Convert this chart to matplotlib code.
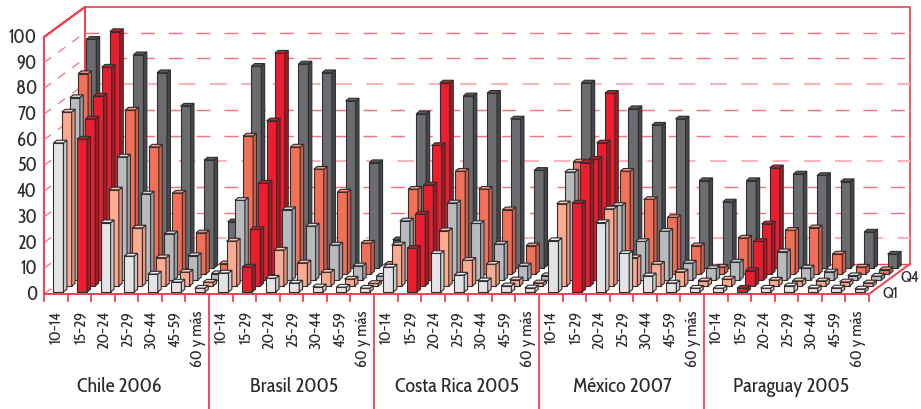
import matplotlib
matplotlib.use('Agg')
import matplotlib.pyplot as plt

plt.rcParams['font.family'] = ['Cabin Condensed', 'Lato', 'DejaVu Sans']

ages = ['10-14', '15-29', '20-24', '25-29', '30-44', '45-59', '60 y más']
countries = ['Chile 2006', 'Brasil 2005', 'Costa Rica 2005', 'México 2007', 'Paraguay 2005']
yticks = [0, 10, 20, 30, 40, 50, 60, 70, 80, 90, 100]

# each row = one age group, Q1 (front) .. Q5 (back)
chile = [[58, 67.7, 71, 78, 89],
         [59.5, 65, 71.6, 80.5, 92],
         [27, 37.4, 47.9, 63.8, 83],
         [14, 22.6, 33.5, 49.4, 76],
         [7, 11, 18, 31.5, 63],
         [3.9, 5.4, 9.5, 16, 42],
         [1.5, 1.5, 2.5, 4, 18]]
brasil = [[7.4, 17.5, 31, 53.7, 78.5],
          [9.7, 22, 37.7, 59.6, 83.6],
          [5.4, 14, 27.4, 49.4, 79.4],
          [3.5, 9, 21, 40.8, 76],
          [2, 5.4, 13.6, 31.9, 65],
          [1.9, 2.7, 5.5, 12, 41],
          [1.5, 1, 1.5, 3.8, 11]]
costa_rica = [[9.7, 16, 23, 33, 60],
              [17, 28, 37, 50, 72],
              [15, 21.5, 30, 40, 67],
              [6.6, 10, 22, 33, 68],
              [4.4, 8.5, 14, 25, 58],
              [2.4, 2.4, 5.5, 11, 38],
              [1.6, 1.2, 1.7, 2.5, 8]]
mexico = [[20, 32, 42, 43.6, 72],
          [34.6, 48, 47, 51, 68],
          [27, 30, 29, 40, 62],
          [15, 11, 15, 29, 55.6],
          [6.3, 8.5, 19, 22, 58],
          [3.5, 5.5, 6.6, 11, 34],
          [1.5, 2, 4.5, 2.7, 25.7]]
paraguay = [[1.5, 2.7, 7, 14, 34],
            [1.5, 6, 15, 19.5, 39],
            [1.5, 2.3, 11, 17, 36.6],
            [2.4, 2, 4.7, 18, 36],
            [1.6, 2, 3.2, 7.8, 33.6],
            [1.6, 1.6, 1.7, 2.7, 14],
            [1.2, 1.2, 1.5, 1.7, 5.4]]
all_data = [chile, brasil, costa_rica, mexico, paraguay]

# face, side, top for each depth row
row_colors = [('#e3e4e6', '#c9cacc', '#f2f2f3'),
              ('#fbab91', '#e8957b', '#fcc4b0'),
              ('#b9babd', '#9c9da0', '#d2d3d5'),
              ('#f37058', '#d95a44', '#f68f7a'),
              ('#6b6c70', '#46474a', '#57585b')]
red_colors = ('#ed1c2e', '#b3151f', '#d81a2a')
wall = '#f0404f'

# 1 x unit = one age slot, 1 y unit = one percent point
sx = 23.57
sy = 2.57
W, H = 921, 410


def X(px):
    return (px - 44) / sx


def Y(py):
    return (295 - py) / sy


fig = plt.figure(figsize=(W / 100, H / 100), dpi=100)
ax = fig.add_axes([0, 0, 1, 1])
ax.set_xlim(X(0), X(W))
ax.set_ylim(Y(H), Y(0))
ax.axis('off')

ddx = 41 / sx          # wall depth
ddy = 30 / sy
n_slots = 35

# walls
ax.plot([0, 0, ddx, 0], [0, 100, 100 + ddy, 100], color=wall, lw=1.4, zorder=1)
ax.plot([ddx, ddx], [ddy, 100 + ddy], color=wall, lw=1.4, zorder=1)
ax.plot([ddx, n_slots + ddx, n_slots + ddx], [100 + ddy, 100 + ddy, ddy], color=wall, lw=1.2, zorder=1)
ax.plot([ddx, n_slots + ddx], [ddy, ddy], color=wall, lw=1.0, zorder=1)
ax.plot([0, n_slots, n_slots + ddx], [0, 0, ddy], color=wall, lw=1.4, zorder=30)

# dashed grid on back wall and left wall
for v in yticks[:-1]:
    pale = v in (70, 40, 10)
    col = '#fbb4bb' if pale else '#f7707c'
    ax.plot([0, ddx], [v, v + ddy], color='#f7707c', lw=0.9, dashes=(7, 7), zorder=1)
    if v > 0:
        ax.plot([ddx, n_slots + ddx], [v + ddy, v + ddy], color=col, lw=1.5 if pale else 1.0,
                dashes=(8, 7) if pale else (10, 10), zorder=1)

# ticks
for i in range(n_slots + 1):
    major = i % 7 == 0 and 0 < i < n_slots
    ax.plot([i, i], [0, Y(410) if major else Y(302)], color=wall, lw=1.3, zorder=30, clip_on=False)

for v in yticks:
    ax.text(X(37), v, str(v), ha='right', va='center', fontsize=13.5, color='#2b2a2c')

# bars, back row first
row_dx = 8.2 / sx
row_dy = 6 / sy
bar_w = 10 / sx
side_x = 3.4 / sx
side_y = 2.7 / sy
edge = '#2f2f31'
for r in range(4, -1, -1):
    z = 10 + (4 - r)
    for g, data in enumerate(all_data):
        for a, vals in enumerate(data):
            x0 = g * 7 + a + 0.403 + r * row_dx
            y0 = 0.78 + r * row_dy
            h = vals[r]
            face, side, top = red_colors if a == 1 else row_colors[r]
            ax.bar(x0, h, bar_w, bottom=y0, align='edge', color=face, edgecolor=edge, lw=0.8, zorder=z)
            ax.fill([x0 + bar_w, x0 + bar_w + side_x, x0 + bar_w + side_x, x0 + bar_w],
                    [y0, y0 + side_y, y0 + h + side_y, y0 + h],
                    facecolor=side, edgecolor=edge, lw=0.8, zorder=z)
            ax.fill([x0, x0 + bar_w, x0 + bar_w + side_x, x0 + side_x],
                    [y0 + h, y0 + h, y0 + h + side_y, y0 + h + side_y],
                    facecolor=top, edgecolor=edge, lw=0.8, zorder=z)

# labels
for g in range(5):
    for a, lab in enumerate(ages):
        ax.text(g * 7 + a + 0.55, Y(311), lab, rotation=90, ha='center', va='top',
                fontsize=11.8, color='#2b2a2c')
for name, px in zip(countries, [119, 294, 457, 622, 791]):
    ax.text(X(px), Y(387), name, ha='center', va='center', fontsize=14.5, color='#2b2a2c')
ax.text(X(890), Y(294), 'Q1', ha='center', va='center', fontsize=12, color='#2b2a2c')
ax.text(X(910), Y(278), 'Q4', ha='center', va='center', fontsize=12, color='#2b2a2c')

fig.savefig('out.png', dpi=100)
